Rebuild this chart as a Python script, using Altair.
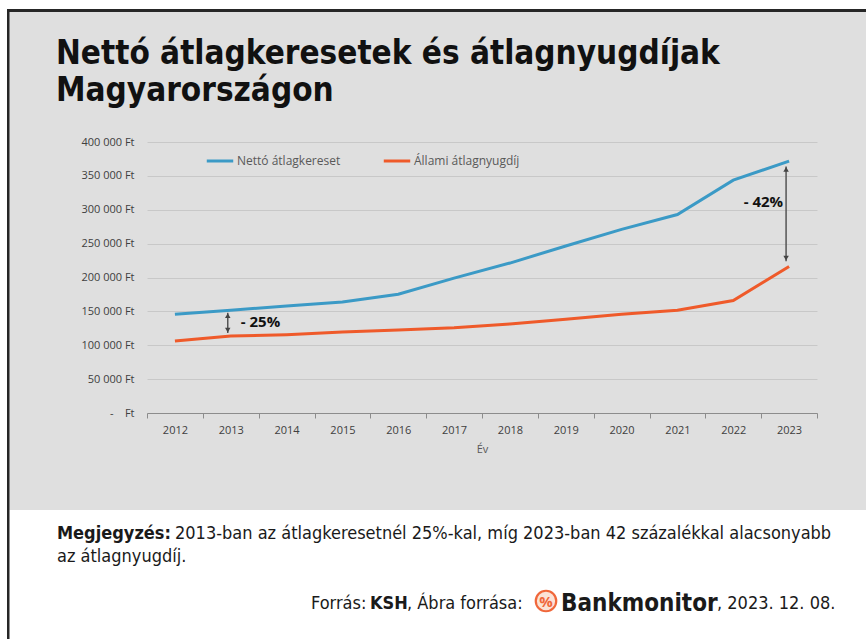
import altair as alt
import pandas as pd

years = ["2012", "2013", "2014", "2015", "2016", "2017", "2018", "2019", "2020", "2021", "2022", "2023"]
netto = [145700, 151700, 158000, 164000, 175400, 199000, 221300, 246500, 271000, 292900, 343700, 371800]
nyugdij = [106200, 113500, 115600, 119500, 122500, 125900, 131400, 138400, 145800, 151700, 166000, 216300]
series_names = ["Nettó átlagkereset", "Állami átlagnyugdíj"]
series_colors = ["#3b9ac6", "#ef5a2a"]
y_ticks = [0, 50000, 100000, 150000, 200000, 250000, 300000, 350000, 400000]

ann_year = ["2013", "2023"]
ann_top = [148000, 364000]
ann_bottom = [118000, 224000]
ann_label = ["- 25%", "- 42%"]
ann_label_y = [134000, 312000]

title_lines = ["Nettó átlagkeresetek és átlagnyugdíjak", "Magyarországon"]
note_bold = "Megjegyzés:"
note_text = "2013-ban az átlagkeresetnél 25%-kal, míg 2023-ban 42 százalékkal alacsonyabb"
note_line2 = "az átlagnyugdíj."

FONT = "'DejaVu Sans Condensed', 'Open Sans'"
TFONT = "'Open Sans'"

df = pd.DataFrame({
    "year": years * 2,
    "value": netto + nyugdij,
    "series": [series_names[0]] * len(years) + [series_names[1]] * len(years),
})
ann = pd.DataFrame({"year": ann_year, "top": ann_top, "bottom": ann_bottom,
                    "label": ann_label, "label_y": ann_label_y})
one = pd.DataFrame({"a": [0]})

W, H = 670, 271
L, T = 147, 142

xaxis = alt.Axis(title="Év", labelAngle=0, tickBand="extent", grid=False,
                 domainColor="#8c8c8c", tickColor="#8c8c8c", tickSize=5,
                 labelFont=TFONT, labelFontSize=11, labelColor="#404040",
                 labelPadding=6, titleFont=TFONT, titleFontSize=11,
                 titleFontWeight="normal", titleColor="#595959", titlePadding=8)
xscale = alt.Scale(type="band", paddingInner=0, paddingOuter=0)
yaxis = alt.Axis(title=None, values=y_ticks, domain=False, ticks=False,
                 gridColor="#c8c8c8", gridWidth=1, labelOverlap=False,
                 labelFont=TFONT, labelFontSize=11, labelColor="#404040",
                 labelPadding=13,
                 labelExpr="datum.value == 0 ? '-\u00a0\u00a0\u00a0\u00a0Ft' : replace(format(datum.value, ',d'), ',', '\u00a0') + '\u00a0Ft'")
yscale = alt.Scale(domain=[0, 400000])


def X():
    return alt.X("year:N", sort=years, scale=xscale, axis=xaxis)


def Y(field):
    return alt.Y(field, type="quantitative", scale=yscale, axis=yaxis)


lines = alt.Chart(df).mark_line(strokeWidth=3).encode(
    x=X(),
    y=Y("value"),
    color=alt.Color("series:N", sort=series_names,
                    scale=alt.Scale(domain=series_names, range=series_colors),
                    legend=alt.Legend(orient="none", legendX=58, legendY=4, direction="horizontal",
                                      title=None, symbolType="stroke", symbolStrokeWidth=3,
                                      symbolSize=700, labelFont=TFONT, labelFontSize=12,
                                      labelColor="#595959", columnPadding=36, labelOffset=2)),
)

arrow_rule = alt.Chart(ann).mark_rule(color="#555555", strokeWidth=1.5, xOffset=-3).encode(
    x=X(), y=Y("top"), y2="bottom:Q")
arrow_top = alt.Chart(ann).mark_point(shape="triangle-up", filled=True, color="#444444",
                                      size=30, opacity=1, xOffset=-3, yOffset=3).encode(
    x=X(), y=Y("top"))
arrow_bot = alt.Chart(ann).mark_point(shape="triangle-down", filled=True, color="#444444",
                                      size=30, opacity=1, xOffset=-3, yOffset=-3).encode(
    x=X(), y=Y("bottom"))
lab1 = alt.Chart(ann.iloc[[0]]).mark_text(align="left", dx=10, fontSize=15, fontWeight="bold",
                                          font=TFONT, color="#111111").encode(
    x=X(), y=Y("label_y"), text="label:N")
lab2 = alt.Chart(ann.iloc[[1]]).mark_text(align="right", dx=-6, fontSize=15, fontWeight="bold",
                                          font=TFONT, color="#111111").encode(
    x=X(), y=Y("label_y"), text="label:N")


def rect(x1, x2, y1, y2, color):
    return alt.Chart(one).mark_rect(color=color).encode(
        x=alt.value(x1 - L), x2=alt.value(x2 - L), y=alt.value(y1 - T), y2=alt.value(y2 - T))


def txt(s, x, y, size, weight="normal", color="#1a1a1a", font=TFONT, align="left"):
    return alt.Chart(one).mark_text(text=s, align=align, baseline="alphabetic", fontSize=size,
                                    fontWeight=weight, color=color, font=font).encode(
        x=alt.value(x - L), y=alt.value(y - T))


white_bottom = rect(0, 866, 510, 639, "white")
white_top = rect(0, 866, 0, 9, "white")
white_left = rect(0, 7, 0, 639, "white")
border_top = rect(7, 866, 9, 12, "#262626")
border_left = rect(7, 9.5, 9, 639, "#262626")

t1 = txt(title_lines[0], 56, 64, 33, "bold", "#111111", FONT)
t2 = txt(title_lines[1], 56, 101, 33, "bold", "#111111", FONT)
n1 = txt(note_bold, 57, 539, 18, "bold", "#1a1a1a", FONT)
n2 = txt(note_text, 175, 539, 18, "normal", "#1a1a1a", FONT)
n3 = txt(note_line2, 57, 562, 18, "normal", "#1a1a1a", FONT)
s1 = txt("Forrás:", 311, 609, 18, "normal", "#1a1a1a", FONT)
s2 = txt("KSH", 370, 609, 18, "bold", "#1a1a1a", FONT)
s3 = txt(", Ábra forrása:", 407, 609, 18, "normal", "#1a1a1a", FONT)
logo_c = alt.Chart(one).mark_point(shape="circle", size=420, filled=False, stroke="#f0673a",
                                   strokeWidth=2.2, fill="#fbe2d6", fillOpacity=1).encode(
    x=alt.value(546 - L), y=alt.value(601 - T))
logo_t = txt("%", 546, 607, 15, "bold", "#f0673a", TFONT, "center")
s4 = txt("Bankmonitor", 561, 611, 24, "bold", "#1a1a1a", FONT)
s5 = txt(", 2023. 12. 08.", 717, 609, 18, "normal", "#1a1a1a", FONT)

chart = alt.layer(
    lines, arrow_rule, arrow_top, arrow_bot, lab1, lab2,
    white_bottom, white_top, white_left, border_top, border_left,
    t1, t2, n1, n2, n3, s1, s2, s3, logo_c, logo_t, s4, s5,
).properties(
    width=W, height=H,
    autosize=alt.AutoSizeParams(type="none"),
    padding={"left": L, "top": T, "right": 866 - L - W, "bottom": 639 - T - H},
    background="#dfdfdf",
).configure_view(stroke=None)

chart.save("out.html", embed_options={"renderer": "svg", "actions": False})
